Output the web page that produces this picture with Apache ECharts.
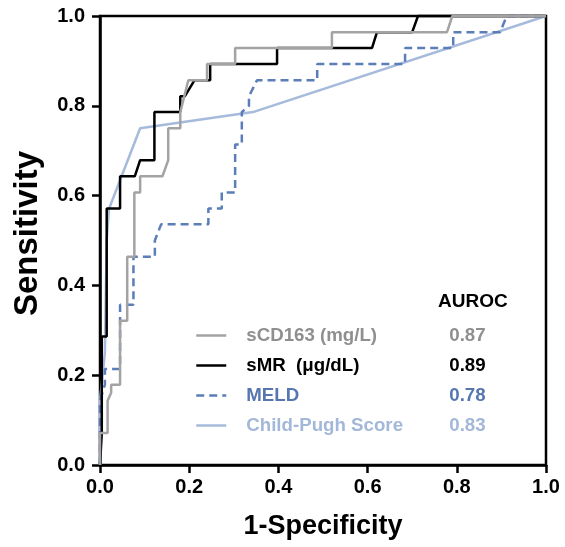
<!DOCTYPE html>
<html>
<head>
<meta charset="utf-8">
<script src="https://cdn.jsdelivr.net/npm/echarts@6/dist/echarts.min.js"></script>
<style>
html, body { margin: 0; padding: 0; background: #fff; }
#chart { width: 565px; height: 547px; }
</style>
</head>
<body>
<div id="chart"></div>
<script>
// ROC curves, points are [1-specificity, sensitivity]
var seriesNames = ['sCD163 (mg/L)', 'sMR  (μg/dL)', 'MELD', 'Child-Pugh Score']
var auroc = ['0.87', '0.89', '0.78', '0.83']
var tickLabels = ['0.0', '0.2', '0.4', '0.6', '0.8', '1.0']

var sCD163 = [
  [0, 0], [0, 0.071], [0.017, 0.071], [0.017, 0.143], [0.025, 0.161], [0.025, 0.179],
  [0.045, 0.179], [0.045, 0.321], [0.061, 0.321], [0.061, 0.464], [0.077, 0.464],
  [0.077, 0.607], [0.09, 0.607], [0.09, 0.643], [0.14, 0.643], [0.153, 0.679],
  [0.153, 0.75], [0.18, 0.75], [0.18, 0.786], [0.198, 0.857], [0.24, 0.857],
  [0.24, 0.893], [0.303, 0.893], [0.303, 0.929], [0.52, 0.929], [0.52, 0.964],
  [0.778, 0.964], [0.79, 1], [1, 1]
]
var sMR = [
  [0, 0], [0.004, 0.071], [0.004, 0.286], [0.015, 0.286], [0.015, 0.571], [0.045, 0.571],
  [0.045, 0.643], [0.078, 0.643], [0.09, 0.679], [0.122, 0.679], [0.122, 0.786],
  [0.18, 0.786], [0.18, 0.821], [0.19, 0.821], [0.212, 0.857], [0.247, 0.857],
  [0.247, 0.893], [0.397, 0.893], [0.397, 0.929], [0.61, 0.929], [0.621, 0.964],
  [0.70, 0.964], [0.713, 1], [1, 1]
]
var meld = [
  [0, 0], [0, 0.143], [0.011, 0.179], [0.011, 0.214], [0.045, 0.214], [0.045, 0.357],
  [0.075, 0.357], [0.075, 0.464], [0.123, 0.464], [0.123, 0.5], [0.137, 0.536],
  [0.243, 0.536], [0.243, 0.571], [0.273, 0.571], [0.273, 0.607], [0.303, 0.607],
  [0.303, 0.714], [0.318, 0.714], [0.318, 0.786], [0.334, 0.8], [0.334, 0.821],
  [0.352, 0.857], [0.487, 0.857], [0.487, 0.893], [0.684, 0.893], [0.684, 0.929],
  [0.792, 0.929], [0.792, 0.964], [0.897, 0.964], [0.912, 1], [1, 1]
]
var childPugh = [
  [0, 0], [0, 0.143], [0.011, 0.25], [0.015, 0.5], [0.02, 0.57], [0.09, 0.75],
  [0.343, 0.786], [1, 1]
]

var colors = ['#a3a3a3', '#000000', '#5b7db8', '#a6badc']
var textColors = ['#8f8f8f', '#000000', '#5676b2', '#a3b7d9']
var font = "'Liberation Sans', Arial, sans-serif"

var chart = echarts.init(document.getElementById('chart'))

function lineSeries(i, data, type, z) {
  return {
    name: seriesNames[i],
    type: 'line',
    data: data,
    symbol: 'none',
    clip: false,
    z: z,
    lineStyle: { color: colors[i], width: 2.5, type: type },
    itemStyle: { color: colors[i] }
  }
}

var option = {
  animation: false,
  title: {
    text: 'AUROC',
    left: 433,
    top: 287,
    textStyle: { fontFamily: font, fontSize: 19, fontWeight: 'bold', color: '#000' }
  },
  grid: {
    left: 100,
    right: 19,
    top: 16,
    bottom: 82,
    show: true,
    borderColor: '#000',
    borderWidth: 2.5
  },
  legend: {
    orient: 'vertical',
    left: 190,
    top: 321,
    itemWidth: 30,
    itemHeight: 14,
    itemGap: 11,
    selectedMode: false,
    itemStyle: { opacity: 0 },
    lineStyle: { width: 2.5 },
    data: seriesNames.map(function(n, i) {
      return { name: n, textStyle: { color: textColors[i] } }
    }),
    formatter: function(name) {
      var i = seriesNames.indexOf(name)
      return '{n|' + name + '}{v|' + auroc[i] + '}'
    },
    textStyle: {
      fontFamily: font, fontSize: 18.7, fontWeight: 'bold',
      rich: {
        n: { width: 203, padding: [0, 0, 0, 15], fontFamily: font, fontSize: 18.7, fontWeight: 'bold' },
        v: { fontFamily: font, fontSize: 18.7, fontWeight: 'bold' }
      }
    }
  },
  xAxis: {
    type: 'value',
    min: 0,
    max: 1,
    interval: 0.2,
    name: '1-Specificity',
    nameLocation: 'middle',
    nameGap: 48,
    nameTextStyle: { fontFamily: font, fontSize: 27, fontWeight: 'bold', color: '#000' },
    axisLine: { onZero: false, lineStyle: { color: '#000', width: 2.5 } },
    axisTick: { length: 8, lineStyle: { color: '#000', width: 2.5 } },
    axisLabel: {
      margin: 12,
      fontFamily: font, fontSize: 20, fontWeight: 'bold', color: '#000',
      formatter: function(v) { return tickLabels[Math.round(v / 0.2)] }
    },
    splitLine: { show: false }
  },
  yAxis: {
    type: 'value',
    min: 0,
    max: 1,
    interval: 0.2,
    name: 'Sensitivity',
    nameLocation: 'middle',
    nameGap: 56,
    nameTextStyle: {
      fontFamily: font, fontSize: 33, fontWeight: 'bold', color: '#000',
      padding: [0, 0, 0, 14]
    },
    axisLine: { onZero: false, lineStyle: { color: '#000', width: 2.5 } },
    axisTick: { length: 8, lineStyle: { color: '#000', width: 2.5 } },
    axisLabel: {
      margin: 15,
      fontFamily: font, fontSize: 20, fontWeight: 'bold', color: '#000',
      formatter: function(v) { return tickLabels[Math.round(v / 0.2)] }
    },
    splitLine: { show: false }
  },
  series: [
    lineSeries(0, sCD163, 'solid', 6),
    lineSeries(1, sMR, 'solid', 5),
    lineSeries(2, meld, [8, 5], 4),
    lineSeries(3, childPugh, 'solid', 3)
  ]
}

chart.setOption(option)
</script>
</body>
</html>
